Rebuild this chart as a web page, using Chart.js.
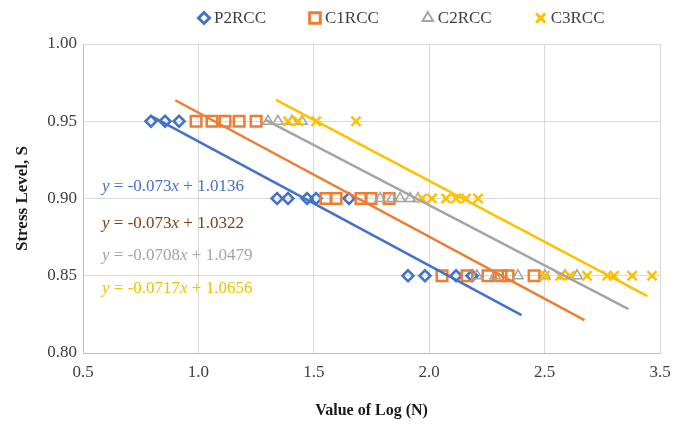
<!DOCTYPE html>
<html>
<head>
<meta charset="utf-8">
<script src="https://cdn.jsdelivr.net/npm/chart.js@4"></script>
<style>
  html, body { margin: 0; padding: 0; background: #fff; }
  #chart { display: block; }
</style>
</head>
<body>
<canvas id="chart" width="685" height="428"></canvas>
<script>
// S-N data: log(N) at each stress level, per series
const seriesNames = ['P2RCC', 'C1RCC', 'C2RCC', 'C3RCC'];

const p2rccLogN = [0.824, 0.891, 0.958, 1.425, 1.477, 1.568, 1.611, 1.768, 2.049, 2.130, 2.278, 2.354];
const p2rccS = [0.95, 0.95, 0.95, 0.90, 0.90, 0.90, 0.90, 0.90, 0.85, 0.85, 0.85, 0.85];

const c1rccLogN = [1.039, 1.115, 1.177, 1.244, 1.325, 1.658, 1.706, 1.825, 1.873, 1.959, 2.211, 2.330, 2.430, 2.492, 2.526, 2.650];
const c1rccS = [0.95, 0.95, 0.95, 0.95, 0.95, 0.90, 0.90, 0.90, 0.90, 0.90, 0.85, 0.85, 0.85, 0.85, 0.85, 0.85];

const c2rccLogN = [1.382, 1.429, 1.496, 1.544, 1.916, 1.973, 2.011, 2.059, 2.097, 2.378, 2.464, 2.573, 2.702, 2.797, 2.855];
const c2rccS = [0.95, 0.95, 0.95, 0.95, 0.90, 0.90, 0.90, 0.90, 0.90, 0.85, 0.85, 0.85, 0.85, 0.85, 0.85];

const c3rccLogN = [1.477, 1.525, 1.611, 1.801, 2.116, 2.163, 2.230, 2.278, 2.326, 2.383, 2.702, 2.774, 2.821, 2.902, 2.998, 3.031, 3.117, 3.212];
const c3rccS = [0.95, 0.95, 0.95, 0.95, 0.90, 0.90, 0.90, 0.90, 0.90, 0.90, 0.85, 0.85, 0.85, 0.85, 0.85, 0.85, 0.85, 0.85];

// linear trendlines y = a*x + b, drawn between trendFrom and trendTo
const trendSlope = [-0.073, -0.073, -0.0708, -0.0717];
const trendIntercept = [1.0136, 1.0322, 1.0479, 1.0656];
const trendFrom = [0.83, 0.94, 1.37, 1.42];
const trendTo = [2.59, 2.89, 3.10, 3.19];

const xTickValues = [0.5, 1.05, 1.6, 2.15, 2.7, 3.25];
const xTickLabels = ['0.5', '1.0', '1.5', '2.0', '2.5', '3.5'];
const yTickLabels = ['0.80', '0.85', '0.90', '0.95', '1.00'];

const colors = ['#4472C4', '#ED7D31', '#A5A5A5', '#FFC000'];
const eqColors = ['#4472C4', '#843C0C', '#A5A5A5', '#EBC200'];
const markerStyle = ['rectRot', 'rect', 'triangle', 'crossRot'];
const markerRadius = [5.5, 7.5, 6, 6.5];
const markerBorder = [2.5, 2.5, 1.5, 2.5];

const serif = "'Liberation Serif', 'Times New Roman', serif";

const logN = [p2rccLogN, c1rccLogN, c2rccLogN, c3rccLogN];
const stress = [p2rccS, c1rccS, c2rccS, c3rccS];

function toPoints(xs, ys) {
  return xs.map((x, i) => ({ x: x, y: ys[i] }));
}

const datasets = [];
seriesNames.forEach((name, i) => {
  datasets.push({
    label: name,
    data: toPoints(logN[i], stress[i]),
    pointStyle: markerStyle[i],
    pointRadius: markerRadius[i],
    pointBorderWidth: markerBorder[i],
    pointBorderColor: colors[i],
    pointBackgroundColor: 'rgba(255,255,255,0)',
    borderColor: colors[i],
    backgroundColor: 'rgba(255,255,255,0)',
    showLine: false,
    order: 8 - i
  });
});
seriesNames.forEach((name, i) => {
  const a = trendSlope[i], b = trendIntercept[i];
  datasets.push({
    label: 'trend ' + name,
    data: [
      { x: trendFrom[i], y: a * trendFrom[i] + b },
      { x: trendTo[i], y: a * trendTo[i] + b }
    ],
    showLine: true,
    borderColor: colors[i],
    borderWidth: 2.5,
    pointRadius: 0,
    pointHoverRadius: 0,
    order: 4 - i
  });
});

// legend row across the top
const topLegend = {
  id: 'topLegend',
  afterDraw(chart) {
    const ctx = chart.ctx;
    ctx.save();
    ctx.font = '17px ' + serif;
    ctx.textBaseline = 'middle';
    let x = 197;
    const y = 18;
    seriesNames.forEach((name, i) => {
      ctx.strokeStyle = colors[i];
      ctx.fillStyle = '#fff';
      ctx.lineWidth = markerBorder[i] + 0.5;
      Chart.helpers.drawPoint(ctx, {
        pointStyle: markerStyle[i],
        radius: markerRadius[i],
        borderWidth: markerBorder[i] + 0.5,
        rotation: 0
      }, x + 7, y);
      ctx.fillStyle = '#404040';
      ctx.fillText(name, x + 17, y + 1);
      x += 17 + ctx.measureText(name).width + 42;
    });
    ctx.restore();
  }
};

// trendline equations on the left side of the plot
const equations = {
  id: 'equations',
  afterDatasetsDraw(chart) {
    const ctx = chart.ctx;
    const area = chart.chartArea;
    const rows = [143, 180, 212, 245];
    ctx.save();
    ctx.textBaseline = 'middle';
    seriesNames.forEach((name, i) => {
      const parts = [
        ['y', true],
        [' = ' + trendSlope[i], false],
        ['x', true],
        [' + ' + trendIntercept[i], false]
      ];
      let x = area.left + 19;
      const y = area.top + rows[i];
      ctx.fillStyle = eqColors[i];
      parts.forEach(([txt, italic]) => {
        ctx.font = (italic ? 'italic ' : '') + '17px ' + serif;
        ctx.fillText(txt, x, y);
        x += ctx.measureText(txt).width;
      });
    });
    ctx.restore();
  }
};

new Chart(document.getElementById('chart'), {
  type: 'scatter',
  data: { datasets: datasets },
  options: {
    responsive: false,
    animation: false,
    layout: { padding: { top: 44, right: 25, left: 0, bottom: 0 } },
    plugins: {
      legend: { display: false },
      tooltip: { enabled: false }
    },
    scales: {
      x: {
        type: 'linear',
        min: xTickValues[0],
        max: xTickValues[xTickValues.length - 1],
        afterFit(scale) { scale.height = 75; },
        afterBuildTicks(scale) {
          scale.ticks = xTickValues.map(v => ({ value: v }));
        },
        ticks: {
          padding: 9,
          color: '#404040',
          font: { family: serif, size: 17 },
          callback: (v, i) => xTickLabels[i]
        },
        grid: { color: '#D9D9D9', drawTicks: false },
        border: { color: '#BFBFBF' },
        title: {
          display: true,
          text: 'Value of Log (N)',
          color: '#1a1a1a',
          font: { family: serif, size: 16, weight: 'bold' },
          padding: { top: 0, bottom: 8 }
        }
      },
      y: {
        min: 0.8,
        max: 1.0,
        afterFit(scale) { scale.width = 83; },
        ticks: {
          stepSize: 0.05,
          padding: 6,
          color: '#404040',
          font: { family: serif, size: 17 },
          callback: (v, i) => yTickLabels[i]
        },
        grid: { color: '#D9D9D9', drawTicks: false },
        border: { color: '#BFBFBF' },
        title: {
          display: true,
          text: 'Stress Level, S',
          color: '#1a1a1a',
          font: { family: serif, size: 17, weight: 'bold' },
          padding: { top: 12, bottom: 0 }
        }
      }
    }
  },
  plugins: [topLegend, equations]
});
</script>
</body>
</html>
